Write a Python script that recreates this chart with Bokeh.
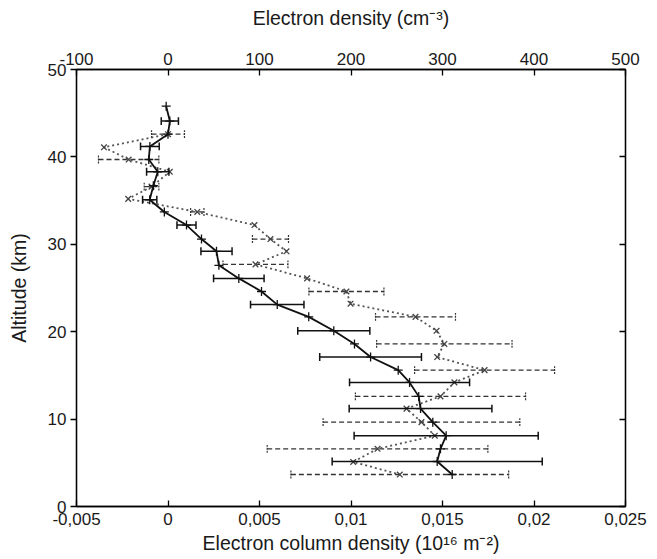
from bokeh.plotting import figure
from bokeh.models import (LinearAxis, Range1d, FixedTicker, ColumnDataSource)
from bokeh.embed import file_html
from bokeh.resources import INLINE

# Series A: electron column density (bottom axis), solid line, "+" markers
alt_a = [45.8, 44.1, 42.6, 41.2, 39.7, 38.3, 36.7, 35.1, 33.7, 32.2, 30.6, 29.2, 27.6,
         26.1, 24.6, 23.1, 21.7, 20.1, 18.6, 17.1, 15.6, 14.2, 12.6, 11.2, 9.65, 8.1,
         6.6, 5.15, 3.66]
col_a = [-0.0001, 0.0001, 0.0, -0.00099, -0.00105, -0.00056, -0.0008, -0.001, -0.0002,
         0.00101, 0.00183, 0.00265, 0.00278, 0.00387, 0.00511, 0.00597, 0.00769, 0.00906,
         0.01019, 0.01107, 0.01258, 0.0132, 0.0137, 0.0138, 0.01447, 0.0152, 0.01489,
         0.01471, 0.01553]
err_a = [0, 0.00047, 0, 0.00051, 0, 0.00061, 0, 0.00039, 0, 0.00052, 0, 0.00085, 0,
         0.00138, 0, 0.00146, 0, 0.00197, 0, 0.00278, 0, 0.00328, 0, 0.0039, 0, 0.00503,
         0, 0.00574, 0]

# Series B: electron density (top axis), dotted line, "x" markers
alt_b = [42.6, 41.1, 39.7, 38.3, 36.6, 35.2, 33.7, 32.2, 30.6, 29.2, 27.7, 26.1, 24.6,
         23.2, 21.7, 20.1, 18.6, 17.1, 15.6, 14.2, 12.6, 11.2, 9.65, 8.1, 6.6, 5.1, 3.66]
dens_b = [0, -70, -43, 2, -18, -43.5, 32, 94.5, 112, 129.5, 95.6, 152, 195, 199.5, 270.5,
          293.5, 302, 294.2, 346, 313, 297.8, 260.7, 277, 291.6, 229, 202.4, 253.3]
err_b = [18, 0, 33, 0, 8, 0, 7.3, 0, 19.7, 0, 35.5, 0, 41, 0, 43.7, 0, 74, 0, 76.5, 0,
         93, 0, 107.5, 0, 120.6, 0, 119]

bottom_ticks = [-0.005, 0, 0.005, 0.01, 0.015, 0.02, 0.025]
bottom_labels = ["-0,005", "0", "0,005", "0,01", "0,015", "0,02", "0,025"]
top_ticks = [-100, 0, 100, 200, 300, 400, 500]
top_labels = ["-100", "0", "100", "200", "300", "400", "500"]
y_ticks = [0, 10, 20, 30, 40, 50]

FONT = "Liberation Sans"
TXT = "#1a1a1a"

p = figure(width=649, height=557, output_backend="svg", toolbar_location=None,
           x_range=Range1d(-0.005, 0.025), y_range=Range1d(0, 50),
           min_border_left=76, min_border_right=24, min_border_top=69,
           min_border_bottom=51)
p.extra_x_ranges = {"top": Range1d(-100, 500)}
p.xgrid.visible = False
p.ygrid.visible = False
p.outline_line_color = "black"
p.outline_line_width = 1.3
p.background_fill_color = "white"
p.border_fill_color = "white"

def style_axis(ax, tin, tout, label_size="17px"):
    ax.axis_line_color = "black"
    ax.axis_line_width = 1.3
    ax.major_tick_line_color = "black"
    ax.major_tick_line_width = 1.3
    ax.major_tick_in = tin
    ax.major_tick_out = tout
    ax.minor_tick_line_color = None
    ax.major_label_text_font = FONT
    ax.major_label_text_font_size = label_size
    ax.major_label_text_color = TXT
    ax.axis_label_text_font = FONT
    ax.axis_label_text_font_size = "19.5px"
    ax.axis_label_text_font_style = "normal"
    ax.axis_label_text_color = TXT

# bottom axis
xb = p.xaxis[0]
xb.ticker = FixedTicker(ticks=bottom_ticks)
xb.major_label_overrides = {t: l for t, l in zip(bottom_ticks, bottom_labels)}
xb.axis_label = "Electron column density (10\u00b9\u2076 m\u207b\u00b2)"
style_axis(xb, 6, 0)
xb.major_label_standoff = 6
xb.axis_label_standoff = 4

# left axis
yl = p.yaxis[0]
yl.ticker = FixedTicker(ticks=y_ticks)
yl.axis_label = "Altitude (km)"
style_axis(yl, 0, 6)
yl.major_label_standoff = 4
yl.axis_label_standoff = 15

# top axis
xt = LinearAxis(x_range_name="top", ticker=FixedTicker(ticks=top_ticks),
                axis_label="Electron density (cm\u207b\u00b3)")
xt.major_label_overrides = {t: l for t, l in zip(top_ticks, top_labels)}
style_axis(xt, 6, 0)
xt.major_label_standoff = 5
xt.axis_label_standoff = 21
p.add_layout(xt, "above")

# right axis (ticks only, no labels)
yr = LinearAxis(ticker=FixedTicker(ticks=y_ticks))
style_axis(yr, 6, 0)
yr.major_label_text_color = None
yr.major_label_standoff = 0
p.add_layout(yr, "right")

# ---- Series B (density, top axis) ----
eb = [(a, d, e) for a, d, e in zip(alt_b, dens_b, err_b) if e > 0]
src_eb = ColumnDataSource(dict(
    y=[r[0] for r in eb], lo=[r[1] - r[2] for r in eb], hi=[r[1] + r[2] for r in eb],
    y0=[r[0] - 0.45 for r in eb], y1=[r[0] + 0.45 for r in eb]))
p.segment(x0="lo", y0="y", x1="hi", y1="y", source=src_eb, x_range_name="top",
          line_color="#333333", line_width=1.3, line_dash="5 3")
p.segment(x0="lo", y0="y0", x1="lo", y1="y1", source=src_eb, x_range_name="top",
          line_color="#333333", line_width=1.2, line_dash="2 1")
p.segment(x0="hi", y0="y0", x1="hi", y1="y1", source=src_eb, x_range_name="top",
          line_color="#333333", line_width=1.2, line_dash="2 1")
p.line(dens_b, alt_b, x_range_name="top", line_color="#555555", line_width=1.8,
       line_dash="2 3")
p.scatter(dens_b, alt_b, x_range_name="top", marker="x", size=8,
          line_color="#444444", line_width=1.3)

# ---- Series A (column density, bottom axis) ----
ea = [(a, c, e) for a, c, e in zip(alt_a, col_a, err_a) if e > 0]
src_ea = ColumnDataSource(dict(
    y=[r[0] for r in ea], lo=[r[1] - r[2] for r in ea], hi=[r[1] + r[2] for r in ea],
    y0=[r[0] - 0.45 for r in ea], y1=[r[0] + 0.45 for r in ea]))
p.segment(x0="lo", y0="y", x1="hi", y1="y", source=src_ea,
          line_color="#111111", line_width=1.5)
p.segment(x0="lo", y0="y0", x1="lo", y1="y1", source=src_ea,
          line_color="#111111", line_width=1.5)
p.segment(x0="hi", y0="y0", x1="hi", y1="y1", source=src_ea,
          line_color="#111111", line_width=1.5)
p.line(col_a, alt_a, line_color="#111111", line_width=1.8)
p.scatter(col_a, alt_a, marker="cross", size=9, line_color="#111111", line_width=1.3)

open("out.html", "w").write(file_html(p, INLINE))
